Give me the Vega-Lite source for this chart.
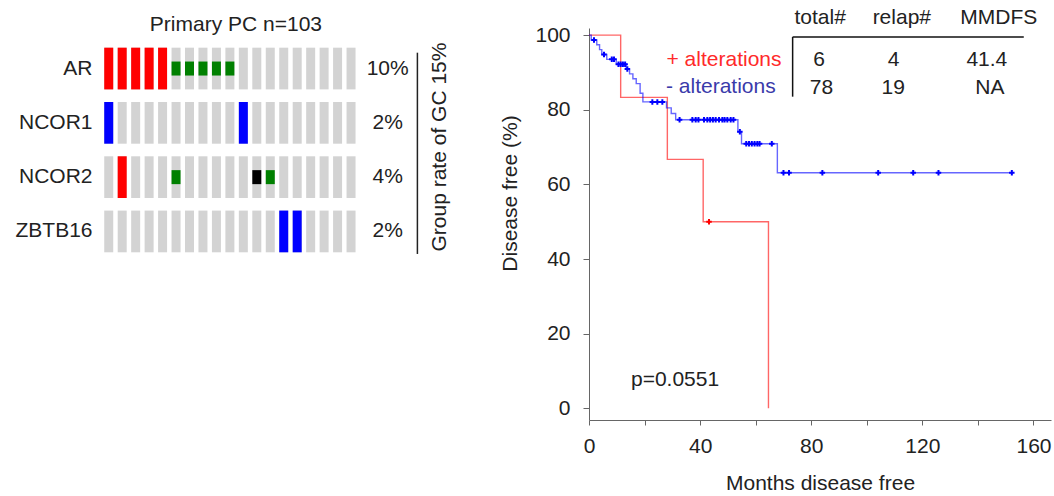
{
  "$schema": "https://vega.github.io/schema/vega-lite/v6.json",
  "padding": {"left": 14, "top": 6, "right": 4, "bottom": 2},
  "bounds": "flush",
  "spacing": 137,
  "config": {
    "view": {"stroke": null},
    "font": "Liberation Sans",
    "axis": {"labelFont": "Liberation Sans", "titleFont": "Liberation Sans", "labelFontSize": 21, "titleFontSize": 21, "titleFontWeight": "normal", "labelColor": "#222222", "titleColor": "#222222", "grid": false, "domainColor": "#666666", "tickColor": "#666666"},
    "text": {"font": "Liberation Sans", "fontSize": 21, "color": "#222222"}
  },
  "datasets": {
    "cells": [
      {"g":"AR","c":0,"t":"amp"},{"g":"AR","c":1,"t":"amp"},{"g":"AR","c":2,"t":"amp"},{"g":"AR","c":3,"t":"amp"},{"g":"AR","c":4,"t":"amp"},
      {"g":"AR","c":5,"t":"mut"},{"g":"AR","c":6,"t":"mut"},{"g":"AR","c":7,"t":"mut"},{"g":"AR","c":8,"t":"mut"},{"g":"AR","c":9,"t":"mut"},
      {"g":"AR","c":10,"t":"none"},{"g":"AR","c":11,"t":"none"},{"g":"AR","c":12,"t":"none"},{"g":"AR","c":13,"t":"none"},{"g":"AR","c":14,"t":"none"},
      {"g":"AR","c":15,"t":"none"},{"g":"AR","c":16,"t":"none"},{"g":"AR","c":17,"t":"none"},{"g":"AR","c":18,"t":"none"},
      {"g":"NCOR1","c":0,"t":"del"},{"g":"NCOR1","c":1,"t":"none"},{"g":"NCOR1","c":2,"t":"none"},{"g":"NCOR1","c":3,"t":"none"},{"g":"NCOR1","c":4,"t":"none"},
      {"g":"NCOR1","c":5,"t":"none"},{"g":"NCOR1","c":6,"t":"none"},{"g":"NCOR1","c":7,"t":"none"},{"g":"NCOR1","c":8,"t":"none"},{"g":"NCOR1","c":9,"t":"none"},
      {"g":"NCOR1","c":10,"t":"del"},{"g":"NCOR1","c":11,"t":"none"},{"g":"NCOR1","c":12,"t":"none"},{"g":"NCOR1","c":13,"t":"none"},{"g":"NCOR1","c":14,"t":"none"},
      {"g":"NCOR1","c":15,"t":"none"},{"g":"NCOR1","c":16,"t":"none"},{"g":"NCOR1","c":17,"t":"none"},{"g":"NCOR1","c":18,"t":"none"},
      {"g":"NCOR2","c":0,"t":"none"},{"g":"NCOR2","c":1,"t":"amp"},{"g":"NCOR2","c":2,"t":"none"},{"g":"NCOR2","c":3,"t":"none"},{"g":"NCOR2","c":4,"t":"none"},
      {"g":"NCOR2","c":5,"t":"mut"},{"g":"NCOR2","c":6,"t":"none"},{"g":"NCOR2","c":7,"t":"none"},{"g":"NCOR2","c":8,"t":"none"},{"g":"NCOR2","c":9,"t":"none"},
      {"g":"NCOR2","c":10,"t":"none"},{"g":"NCOR2","c":11,"t":"trunc"},{"g":"NCOR2","c":12,"t":"mut"},{"g":"NCOR2","c":13,"t":"none"},{"g":"NCOR2","c":14,"t":"none"},
      {"g":"NCOR2","c":15,"t":"none"},{"g":"NCOR2","c":16,"t":"none"},{"g":"NCOR2","c":17,"t":"none"},{"g":"NCOR2","c":18,"t":"none"},
      {"g":"ZBTB16","c":0,"t":"none"},{"g":"ZBTB16","c":1,"t":"none"},{"g":"ZBTB16","c":2,"t":"none"},{"g":"ZBTB16","c":3,"t":"none"},{"g":"ZBTB16","c":4,"t":"none"},
      {"g":"ZBTB16","c":5,"t":"none"},{"g":"ZBTB16","c":6,"t":"none"},{"g":"ZBTB16","c":7,"t":"none"},{"g":"ZBTB16","c":8,"t":"none"},{"g":"ZBTB16","c":9,"t":"none"},
      {"g":"ZBTB16","c":10,"t":"none"},{"g":"ZBTB16","c":11,"t":"none"},{"g":"ZBTB16","c":12,"t":"none"},{"g":"ZBTB16","c":13,"t":"del"},{"g":"ZBTB16","c":14,"t":"del"},
      {"g":"ZBTB16","c":15,"t":"none"},{"g":"ZBTB16","c":16,"t":"none"},{"g":"ZBTB16","c":17,"t":"none"},{"g":"ZBTB16","c":18,"t":"none"}
    ],
    "pct": [
      {"g":"AR","pct":"10%"},{"g":"NCOR1","pct":"2%"},{"g":"NCOR2","pct":"4%"},{"g":"ZBTB16","pct":"2%"}
    ],
    "km": [
      {"grp":"+","time":0,"surv":100},{"grp":"+","time":11.4,"surv":83.3},{"grp":"+","time":28.2,"surv":66.7},{"grp":"+","time":41.1,"surv":50},{"grp":"+","time":64.6,"surv":0},
      {"grp":"-","time":0,"surv":100},{"grp":"-","time":0.8,"surv":98.7},{"grp":"-","time":2.8,"surv":97.4},{"grp":"-","time":3.8,"surv":96.1},{"grp":"-","time":4.6,"surv":94.8},
      {"grp":"-","time":6.4,"surv":93.5},{"grp":"-","time":9.8,"surv":92.2},{"grp":"-","time":13.4,"surv":90.9},{"grp":"-","time":14.6,"surv":89.6},{"grp":"-","time":15.8,"surv":88.3},
      {"grp":"-","time":17.0,"surv":87.0},{"grp":"-","time":18.4,"surv":84.4},{"grp":"-","time":19.4,"surv":82.1},{"grp":"-","time":27.9,"surv":80.5},{"grp":"-","time":29.6,"surv":79.0},
      {"grp":"-","time":31.2,"surv":77.3},{"grp":"-","time":53.6,"surv":74.1},{"grp":"-","time":54.9,"surv":70.9},{"grp":"-","time":67.8,"surv":63.1},{"grp":"-","time":152.4,"surv":63.1}
    ],
    "cens": [
      {"grp":"+","time":43.2,"surv":50},
      {"grp":"-","time":1.8,"surv":98.7},{"grp":"-","time":5.4,"surv":94.8},{"grp":"-","time":8.2,"surv":93.5},{"grp":"-","time":9.0,"surv":93.5},
      {"grp":"-","time":10.6,"surv":92.2},{"grp":"-","time":11.4,"surv":92.2},{"grp":"-","time":12.2,"surv":92.2},{"grp":"-","time":13.0,"surv":92.2},{"grp":"-","time":13.8,"surv":90.9},
      {"grp":"-","time":22.8,"surv":82.1},{"grp":"-","time":24.6,"surv":82.1},{"grp":"-","time":26.4,"surv":82.1},
      {"grp":"-","time":32.6,"surv":77.3},{"grp":"-","time":37.2,"surv":77.3},{"grp":"-","time":38.4,"surv":77.3},{"grp":"-","time":39.4,"surv":77.3},{"grp":"-","time":41.4,"surv":77.3},
      {"grp":"-","time":42.6,"surv":77.3},{"grp":"-","time":43.6,"surv":77.3},{"grp":"-","time":44.6,"surv":77.3},{"grp":"-","time":45.6,"surv":77.3},{"grp":"-","time":46.8,"surv":77.3},
      {"grp":"-","time":48.0,"surv":77.3},{"grp":"-","time":48.8,"surv":77.3},{"grp":"-","time":49.8,"surv":77.3},{"grp":"-","time":51.0,"surv":77.3},{"grp":"-","time":52.0,"surv":77.3},
      {"grp":"-","time":54.3,"surv":74.1},
      {"grp":"-","time":56.6,"surv":70.9},{"grp":"-","time":57.6,"surv":70.9},{"grp":"-","time":58.6,"surv":70.9},{"grp":"-","time":59.6,"surv":70.9},{"grp":"-","time":60.6,"surv":70.9},{"grp":"-","time":61.4,"surv":70.9},{"grp":"-","time":65.8,"surv":70.9},
      {"grp":"-","time":70.0,"surv":63.1},{"grp":"-","time":72.0,"surv":63.1},{"grp":"-","time":84.0,"surv":63.1},{"grp":"-","time":104.1,"surv":63.1},{"grp":"-","time":116.7,"surv":63.1},{"grp":"-","time":125.8,"surv":63.1},{"grp":"-","time":152.2,"surv":63.1}
    ]
  },
  "hconcat": [
    {
      "width": 350,
      "height": 231,
      "layer": [
        {
          "data": {"name": "cells"},
          "mark": {"type": "tick", "orient": "vertical", "thickness": 9, "size": 41.7, "color": "#d3d3d3", "opacity": 1},
          "encoding": {
            "x": {"field": "c", "type": "quantitative", "scale": {"domain": [-0.5, 25.5], "nice": false, "zero": false}, "axis": null},
            "y": {"field": "g", "type": "nominal", "sort": ["AR", "NCOR1", "NCOR2", "ZBTB16"], "scale": {"paddingInner": 0.232, "paddingOuter": 0.243, "align": 0.746},
                  "axis": {"title": null, "ticks": false, "domain": false, "labelPadding": 10, "labelFontSize": 21}}
          }
        },
        {
          "data": {"name": "cells"},
          "transform": [{"filter": {"field": "t", "oneOf": ["amp", "del"]}}],
          "mark": {"type": "tick", "orient": "vertical", "thickness": 9, "size": 41.7, "opacity": 1},
          "encoding": {
            "x": {"field": "c", "type": "quantitative"},
            "y": {"field": "g", "type": "nominal", "sort": ["AR", "NCOR1", "NCOR2", "ZBTB16"]},
            "color": {"field": "t", "type": "nominal", "scale": {"domain": ["amp", "del", "mut", "trunc"], "range": ["#ff0000", "#0000ff", "#008000", "#000000"]}, "legend": null}
          }
        },
        {
          "data": {"name": "cells"},
          "transform": [{"filter": {"field": "t", "oneOf": ["mut", "trunc"]}}],
          "mark": {"type": "tick", "orient": "vertical", "thickness": 9, "size": 14, "opacity": 1},
          "encoding": {
            "x": {"field": "c", "type": "quantitative"},
            "y": {"field": "g", "type": "nominal", "sort": ["AR", "NCOR1", "NCOR2", "ZBTB16"]},
            "color": {"field": "t", "type": "nominal", "legend": null}
          }
        },
        {
          "data": {"name": "pct"},
          "mark": {"type": "text", "align": "center", "baseline": "middle"},
          "encoding": {
            "x": {"datum": 20.72, "type": "quantitative"},
            "y": {"field": "g", "type": "nominal", "sort": ["AR", "NCOR1", "NCOR2", "ZBTB16"]},
            "text": {"field": "pct"}
          }
        },
        {
          "data": {"values": [{"k": 1}]},
          "mark": {"type": "rule", "color": "#222222", "strokeWidth": 1.5},
          "encoding": {
            "x": {"datum": 22.93, "type": "quantitative"},
            "y": {"datum": "AR", "type": "nominal", "bandPosition": 0.12},
            "y2": {"datum": "ZBTB16", "bandPosition": 1.04}
          }
        },
        {
          "data": {"values": [{"label": "Group rate of GC 15%"}]},
          "mark": {"type": "text", "angle": 270, "align": "center", "baseline": "alphabetic"},
          "encoding": {
            "x": {"datum": 25.04, "type": "quantitative"},
            "y": {"datum": "NCOR1", "type": "nominal", "bandPosition": 1.08},
            "text": {"field": "label"}
          }
        },
        {
          "data": {"values": [{"label": "Primary PC n=103"}]},
          "mark": {"type": "text", "align": "center", "baseline": "alphabetic", "dy": -16.7},
          "encoding": {
            "x": {"datum": 9.45, "type": "quantitative"},
            "y": {"datum": "AR", "type": "nominal", "bandPosition": 0},
            "text": {"field": "label"}
          }
        }
      ]
    },
    {
      "width": 462,
      "height": 392,
      "layer": [
        {
          "data": {"name": "km"},
          "mark": {"type": "line", "interpolate": "step-after", "strokeWidth": 1.4, "opacity": 0.6},
          "encoding": {
            "x": {"field": "time", "type": "quantitative", "scale": {"domain": [0, 166.3], "nice": false, "zero": false},
                  "axis": {"title": "Months disease free", "values": [0, 20, 40, 60, 80, 100, 120, 140, 160], "labelExpr": "datum.value % 40 == 0 ? datum.label : ''", "tickSize": 5, "labelPadding": 10, "titlePadding": 16, "labelFlush": false, "labelOverlap": false}},
            "y": {"field": "surv", "type": "quantitative", "scale": {"domain": [-3.13, 101.9], "nice": false, "zero": false},
                  "axis": {"title": "Disease free (%)", "values": [0, 10, 20, 30, 40, 50, 60, 70, 80, 90, 100], "labelExpr": "datum.value % 20 == 0 ? datum.label : ''", "tickSize": 6, "labelPadding": 13, "titlePadding": 14, "titleY": 165, "labelFlush": false, "labelOverlap": false}},
            "color": {"field": "grp", "type": "nominal", "scale": {"domain": ["+", "-"], "range": ["#ff0000", "#0000ff"]}, "legend": null}
          }
        },
        {
          "data": {"name": "cens"},
          "mark": {"type": "point", "shape": "M-1,0H1M0,-1V1", "filled": false, "size": 30, "strokeWidth": 2, "opacity": 1},
          "encoding": {
            "x": {"field": "time", "type": "quantitative"},
            "y": {"field": "surv", "type": "quantitative"},
            "color": {"field": "grp", "type": "nominal", "legend": null}
          }
        },
        {
          "data": {"values": [{"k": 1}]},
          "mark": {"type": "rule", "color": "#111111", "strokeWidth": 1.5},
          "encoding": {"x": {"datum": 73.3, "type": "quantitative"}, "x2": {"datum": 156.5}, "y": {"datum": 99.5, "type": "quantitative"}}
        },
        {
          "data": {"values": [{"k": 1}]},
          "mark": {"type": "rule", "color": "#111111", "strokeWidth": 1.5},
          "encoding": {"x": {"datum": 73.3, "type": "quantitative"}, "y": {"datum": 99.5, "type": "quantitative"}, "y2": {"datum": 83.5}}
        },
        {
          "data": {"values": [{"label": "+ alterations"}]},
          "mark": {"type": "text", "align": "left", "baseline": "alphabetic", "color": "#ff2a2a"},
          "encoding": {"x": {"datum": 27.9, "type": "quantitative"}, "y": {"datum": 91.8, "type": "quantitative"}, "text": {"field": "label"}}
        },
        {
          "data": {"values": [{"label": "- alterations"}]},
          "mark": {"type": "text", "align": "left", "baseline": "alphabetic", "color": "#3a3aaa"},
          "encoding": {"x": {"datum": 27.7, "type": "quantitative"}, "y": {"datum": 84.4, "type": "quantitative"}, "text": {"field": "label"}}
        },
        {
          "data": {"values": [{"label": "p=0.0551"}]},
          "mark": {"type": "text", "align": "left", "baseline": "alphabetic"},
          "encoding": {"x": {"datum": 15.1, "type": "quantitative"}, "y": {"datum": 6.0, "type": "quantitative"}, "text": {"field": "label"}}
        },
        {
          "data": {"values": [{"label": "total#"}]},
          "mark": {"type": "text", "align": "center", "baseline": "alphabetic"},
          "encoding": {"x": {"datum": 83.2, "type": "quantitative"}, "y": {"datum": 103.1, "type": "quantitative"}, "text": {"field": "label"}}
        },
        {
          "data": {"values": [{"label": "relap#"}]},
          "mark": {"type": "text", "align": "center", "baseline": "alphabetic"},
          "encoding": {"x": {"datum": 112.6, "type": "quantitative"}, "y": {"datum": 103.1, "type": "quantitative"}, "text": {"field": "label"}}
        },
        {
          "data": {"values": [{"label": "MMDFS"}]},
          "mark": {"type": "text", "align": "center", "baseline": "alphabetic"},
          "encoding": {"x": {"datum": 147.5, "type": "quantitative"}, "y": {"datum": 103.1, "type": "quantitative"}, "text": {"field": "label"}}
        },
        {
          "data": {"values": [{"label": "6"}]},
          "mark": {"type": "text", "align": "center", "baseline": "alphabetic"},
          "encoding": {"x": {"datum": 82.8, "type": "quantitative"}, "y": {"datum": 91.7, "type": "quantitative"}, "text": {"field": "label"}}
        },
        {
          "data": {"values": [{"label": "4"}]},
          "mark": {"type": "text", "align": "center", "baseline": "alphabetic"},
          "encoding": {"x": {"datum": 109.6, "type": "quantitative"}, "y": {"datum": 91.7, "type": "quantitative"}, "text": {"field": "label"}}
        },
        {
          "data": {"values": [{"label": "41.4"}]},
          "mark": {"type": "text", "align": "center", "baseline": "alphabetic"},
          "encoding": {"x": {"datum": 143.2, "type": "quantitative"}, "y": {"datum": 91.7, "type": "quantitative"}, "text": {"field": "label"}}
        },
        {
          "data": {"values": [{"label": "78"}]},
          "mark": {"type": "text", "align": "center", "baseline": "alphabetic"},
          "encoding": {"x": {"datum": 83.7, "type": "quantitative"}, "y": {"datum": 84.2, "type": "quantitative"}, "text": {"field": "label"}}
        },
        {
          "data": {"values": [{"label": "19"}]},
          "mark": {"type": "text", "align": "center", "baseline": "alphabetic"},
          "encoding": {"x": {"datum": 109.5, "type": "quantitative"}, "y": {"datum": 84.2, "type": "quantitative"}, "text": {"field": "label"}}
        },
        {
          "data": {"values": [{"label": "NA"}]},
          "mark": {"type": "text", "align": "center", "baseline": "alphabetic"},
          "encoding": {"x": {"datum": 144.3, "type": "quantitative"}, "y": {"datum": 84.2, "type": "quantitative"}, "text": {"field": "label"}}
        }
      ]
    }
  ]
}
